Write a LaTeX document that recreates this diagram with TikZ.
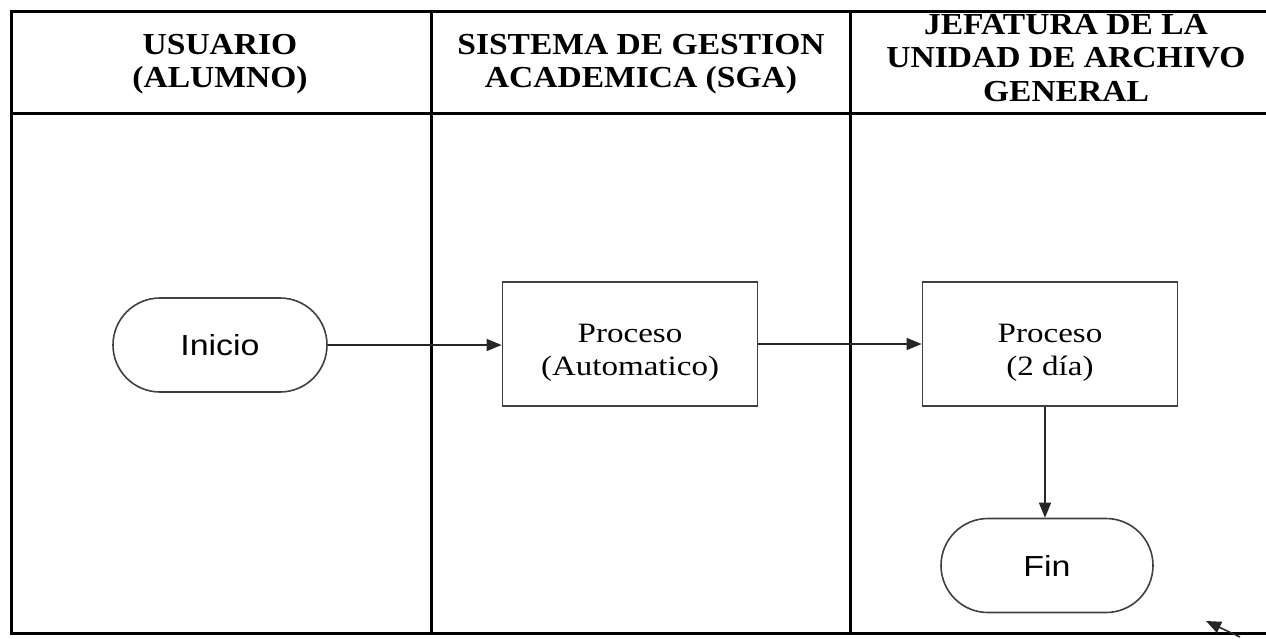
\documentclass[tikz,border=0pt]{standalone}
\usepackage{fontspec}
\setmainfont{Liberation Serif}
\newfontfamily\headf[FakeStretch=1.1]{Liberation Serif}
\newfontfamily\bodyf[FakeStretch=1.18]{Liberation Serif}
\newfontfamily\arialf[FakeStretch=1.17]{Liberation Sans}
\usetikzlibrary{arrows.meta}
\begin{document}
\begin{tikzpicture}[x=1pt,y=-1pt,
  frame/.style={line width=3pt,black},
  head/.style={font=\headf\fontsize{30.5}{33.5}\selectfont\bfseries,align=center,text=black,inner sep=0},
  procbox/.style={draw=black!75,line width=1.8pt,minimum width=255pt,minimum height=124pt,inner sep=0},
  proctext/.style={align=center,inner sep=0,font=\bodyf\fontsize{28}{33}\selectfont},
  term/.style={draw=black!75,line width=1.6pt,rounded corners=47pt,minimum height=94pt,inner sep=0,font=\arialf\fontsize{29}{30}\selectfont},
  flow/.style={line width=1.5pt,black!85,-{Triangle[length=15pt,width=12pt]}}]
\useasboundingbox (0,0) rectangle (1266,638);
% frame
\draw[frame] (1270,11.5) -- (11.5,11.5) -- (11.5,633) -- (1270,633);
\draw[frame] (11.5,113) -- (1270,113);
\draw[frame] (431,11.5) -- (431,633);
\draw[frame] (850,11.5) -- (850,633);
% headers
\node[head] (h1) at (220,64) {USUARIO\\(ALUMNO)};
\node[head] (h2) at (641,64) {SISTEMA DE GESTION\\ACADEMICA (SGA)};
\node[head] (h3) at (1066,58) {JEFATURA DE LA\\UNIDAD DE ARCHIVO\\GENERAL};
% nodes
\node[term,minimum width=214pt] (ini) at (220,345) {Inicio};
\node[procbox] (p1) at (630,344) {};
\node[proctext] (t1) at ([yshift=-9pt]p1.center) {Proceso\\(Automatico)};
\node[procbox] (p2) at (1050,344) {};
\node[proctext] (t2) at ([yshift=-9pt]p2.center) {Proceso\\(2 día)};
\node[term,minimum width=212pt] (fin) at (1047,565.5) {Fin};
% connectors
\draw[flow] (ini.east) -- (ini.east -| p1.west);
\draw[flow] (p1.east) -- (p2.west);
\draw[flow] (p2.south -| 1045,0) -- (fin.north -| 1045,0);
% stray arrow at bottom right
\coordinate (s1) at (1240,637);
\coordinate (s2) at (1206,621);
\draw[flow] (s1) -- (s2);
\end{tikzpicture}
\end{document}
